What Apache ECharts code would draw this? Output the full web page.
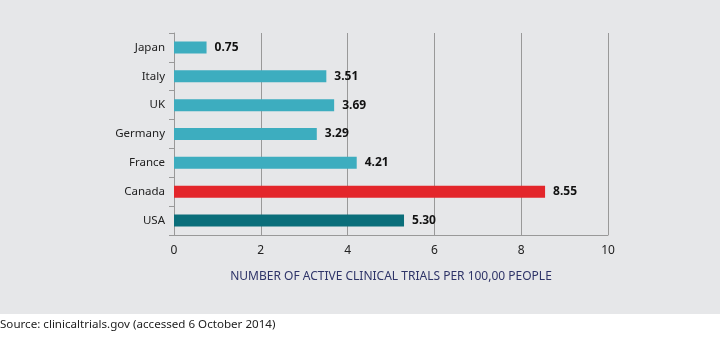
<!DOCTYPE html>
<html>
<head>
<meta charset="utf-8">
<script src="https://cdn.jsdelivr.net/npm/echarts@6/dist/echarts.min.js"></script>
<style>html,body{margin:0;padding:0;background:#fff}#c{width:720px;height:337px}</style>
</head>
<body>
<div id="c"></div>
<script>
var categories = ['USA', 'Canada', 'France', 'Germany', 'UK', 'Italy', 'Japan'];
var values = [5.30, 8.55, 4.21, 3.29, 3.69, 3.51, 0.75];
var barColors = ['#0a6e7a', '#e3262b', '#3dadbf', '#3dadbf', '#3dadbf', '#3dadbf', '#3dadbf'];
var xTicks = [0, 2, 4, 6, 8, 10];

var chart = echarts.init(document.getElementById('c'), null, {renderer: 'canvas'});
chart.setOption({
  backgroundColor: '#ffffff',
  animation: false,
  graphic: [
    {type: 'rect', z: -10, shape: {x: 0, y: 0, width: 720, height: 314}, style: {fill: '#e6e7e9'}},
    {type: 'text', left: 0, top: 319, style: {text: 'Source: clinicaltrials.gov (accessed 6 October 2014)', font: '11.6px "Noto Sans"', fill: '#222'}}
  ],
  grid: {left: 174, right: 112, top: 33, bottom: 102, containLabel: false},
  xAxis: {
    type: 'value', min: 0, max: 10, interval: 2,
    axisLine: {show: true, lineStyle: {color: '#999', width: 1}},
    axisTick: {show: false},
    splitLine: {show: true, lineStyle: {color: '#999', width: 1}},
    axisLabel: {color: '#222', fontSize: 12, margin: 10, fontFamily: 'Noto Sans',
      formatter: function (v) { return xTicks.indexOf(v) >= 0 ? String(v) : ''; }},
    name: 'NUMBER OF ACTIVE CLINICAL TRIALS PER 100,00 PEOPLE',
    nameLocation: 'middle', nameGap: 36,
    nameTextStyle: {color: '#2e3468', fontSize: 12, fontFamily: 'Noto Sans'}
  },
  yAxis: {
    type: 'category', data: categories,
    axisLine: {show: true, lineStyle: {color: '#999', width: 1}},
    axisTick: {show: true, length: 5, lineStyle: {color: '#999'}},
    splitLine: {show: false},
    axisLabel: {color: '#222', fontSize: 11.5, margin: 9, fontFamily: 'Noto Sans'}
  },
  series: [{
    type: 'bar', barWidth: 12,
    data: values.map(function (v, i) { return {value: v, itemStyle: {color: barColors[i]}}; }),
    label: {show: true, position: 'right', distance: 8, color: '#111', fontWeight: 'bold', fontSize: 12, fontFamily: 'Noto Sans',
      formatter: function (p) { return p.value.toFixed(2); }}
  }]
});
</script>
</body>
</html>
